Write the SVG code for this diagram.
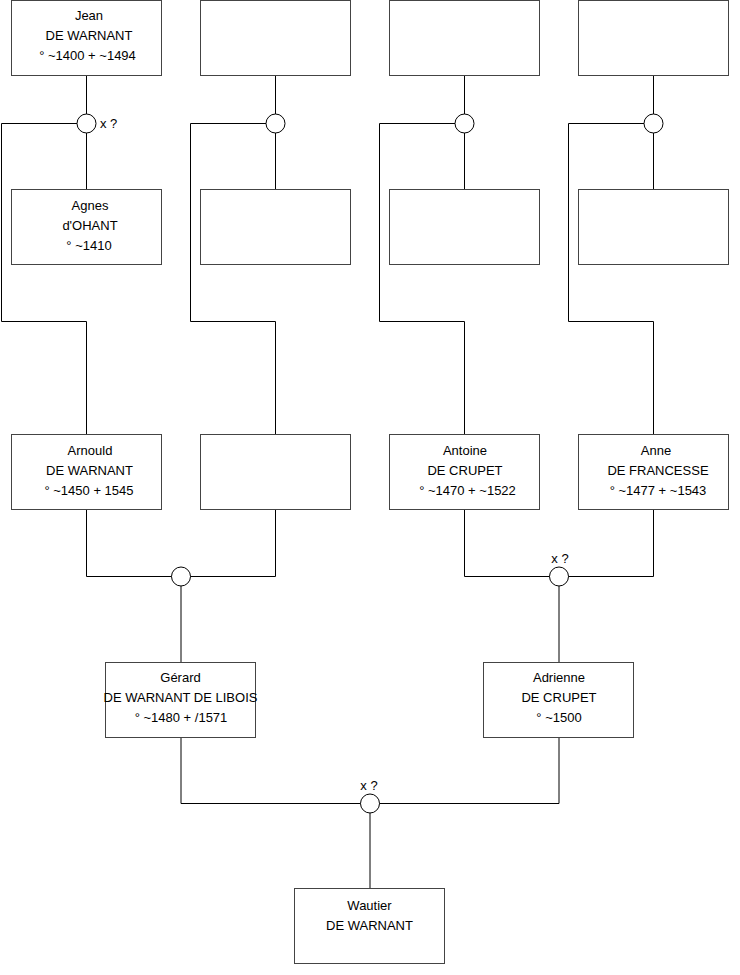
<svg xmlns="http://www.w3.org/2000/svg" width="740" height="975" viewBox="0 0 740 975">
<style>
.box{fill:#fff;stroke:#444;stroke-width:1}
.ln{fill:none;stroke:#000;stroke-width:1}
.ring{fill:#fff;stroke:#000;stroke-width:1}
text{font-family:"Liberation Sans",Arial,sans-serif;font-size:13px;fill:#000;text-anchor:middle}
.st{text-anchor:start}
</style>
<rect width="740" height="975" fill="#fff"/>
<g id="connectors">
<path class="ln" d="M86.5 75.5V189.5M77 123.5H1.5V321.5H86.5V434.5"/>
<path class="ln" d="M275.5 75.5V189.5M266 123.5H190.5V321.5H275.5V434.5"/>
<path class="ln" d="M464.5 75.5V189.5M455 123.5H379.5V321.5H464.5V434.5"/>
<path class="ln" d="M653.5 75.5V189.5M644 123.5H568.5V321.5H653.5V434.5"/>
<path class="ln" d="M86.5 509.5V576.5H275.5V509.5M181 576.5V662.5"/>
<path class="ln" d="M464.5 509.5V576.5H653.5V509.5M559 576.5V662.5"/>
<path class="ln" d="M181 737.5V803.5H559V737.5M370 803.5V888.5"/>
<circle class="ring" cx="86.5" cy="123.5" r="9.5"/>
<circle class="ring" cx="275.5" cy="123.5" r="9.5"/>
<circle class="ring" cx="464.5" cy="123.5" r="9.5"/>
<circle class="ring" cx="653.5" cy="123.5" r="9.5"/>
<circle class="ring" cx="181" cy="576.5" r="9.5"/>
<circle class="ring" cx="559" cy="576.5" r="9.5"/>
<circle class="ring" cx="370" cy="803.5" r="9.5"/>
<text class="st" x="100" y="128">x ?</text>
<text x="560" y="563">x ?</text>
<text x="369" y="790">x ?</text>
</g>
<g id="jean"><rect class="box" x="11.5" y="0.5" width="150" height="75"/><text x="89" y="20">Jean</text><text x="89" y="40">DE WARNANT</text><text x="87.5" y="60">° ~1400 + ~1494</text></g>
<g id="n-top2"><rect class="box" x="200.5" y="0.5" width="150" height="75"/></g>
<g id="n-top3"><rect class="box" x="389.5" y="0.5" width="150" height="75"/></g>
<g id="n-top4"><rect class="box" x="578.5" y="0.5" width="150" height="75"/></g>
<g id="agnes"><rect class="box" x="11.5" y="189.5" width="150" height="75"/><text x="90" y="210">Agnes</text><text x="90" y="230">d'OHANT</text><text x="89" y="250">° ~1410</text></g>
<g id="n-mid2"><rect class="box" x="200.5" y="189.5" width="150" height="75"/></g>
<g id="n-mid3"><rect class="box" x="389.5" y="189.5" width="150" height="75"/></g>
<g id="n-mid4"><rect class="box" x="578.5" y="189.5" width="150" height="75"/></g>
<g id="arnould"><rect class="box" x="11.5" y="434.5" width="150" height="75"/><text x="90" y="455">Arnould</text><text x="89.5" y="475">DE WARNANT</text><text x="89" y="495">° ~1450 + 1545</text></g>
<g id="n-row3-2"><rect class="box" x="200.5" y="434.5" width="150" height="75"/></g>
<g id="antoine"><rect class="box" x="389.5" y="434.5" width="150" height="75"/><text x="465" y="455">Antoine</text><text x="465" y="475">DE CRUPET</text><text x="467.5" y="495">° ~1470 + ~1522</text></g>
<g id="anne"><rect class="box" x="578.5" y="434.5" width="150" height="75"/><text x="656" y="455">Anne</text><text x="658" y="475">DE FRANCESSE</text><text x="658" y="495">° ~1477 + ~1543</text></g>
<g id="gerard"><rect class="box" x="105.5" y="662.5" width="150" height="75"/><text x="180.5" y="682">Gérard</text><text x="180.5" y="702">DE WARNANT DE LIBOIS</text><text x="181" y="722">° ~1480 + /1571</text></g>
<g id="adrienne"><rect class="box" x="483.5" y="662.5" width="150" height="75"/><text x="559" y="682">Adrienne</text><text x="559" y="702">DE CRUPET</text><text x="559" y="722">° ~1500</text></g>
<g id="wautier"><rect class="box" x="294.5" y="888.5" width="150" height="75"/><text x="369.5" y="910">Wautier</text><text x="369.5" y="930">DE WARNANT</text></g>
</svg>
